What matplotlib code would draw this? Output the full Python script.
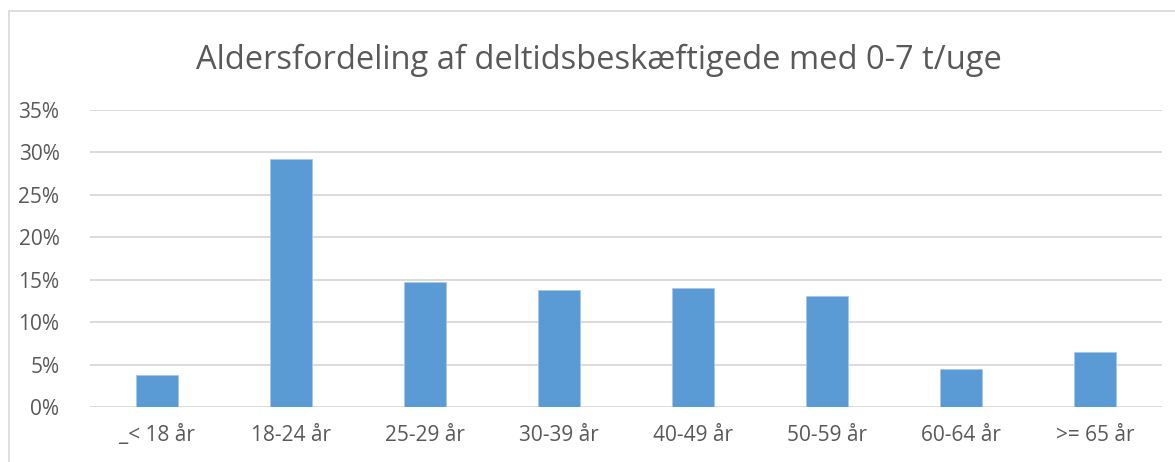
import matplotlib.pyplot as plt
from matplotlib.patches import Rectangle
from matplotlib.ticker import PercentFormatter

plt.rcParams['font.family'] = ['Open Sans', 'DejaVu Sans']

# Data
categories = ['_< 18 år', '18-24 år', '25-29 år', '30-39 år', '40-49 år',
              '50-59 år', '60-64 år', '>= 65 år']
shares = [0.038, 0.292, 0.147, 0.138, 0.141, 0.131, 0.045, 0.065]
y_ticks = [0, 0.05, 0.10, 0.15, 0.20, 0.25, 0.30, 0.35]

W, H = 1175, 462
fig = plt.figure(figsize=(W / 100, H / 100), dpi=100)

# outer chart border (left and top visible only)
fig.patches.append(Rectangle((9 / W, -0.1), 1.2, 1 - 11 / H + 0.1,
                             transform=fig.transFigure, fill=False,
                             edgecolor='#d9d9d9', linewidth=1.2))

ax = fig.add_axes([90 / W, 1 - 407.3 / H, (1162 - 90) / W, (407.3 - 110) / H])
ax.bar(range(len(categories)), shares, width=0.31, color='#5b9bd5',
       edgecolor='#a9c8ea', linewidth=0.6, zorder=3)

ax.set_xlim(-0.5, len(categories) - 0.5)
ax.set_ylim(0, 0.35)
ax.set_yticks(y_ticks)
ax.yaxis.set_major_formatter(PercentFormatter(1.0, decimals=0))
ax.set_xticks(range(len(categories)))
ax.set_xticklabels(categories)
ax.grid(axis='y', color='#d9d9d9', linewidth=1.3, zorder=0)
for s in ax.spines.values():
    s.set_visible(False)
ax.tick_params(axis='both', length=0, labelsize=15, labelcolor='#595959')
ax.tick_params(axis='x', pad=13)
ax.tick_params(axis='y', pad=22)

fig.text(0.510, 1 - 60 / H, 'Aldersfordeling af deltidsbeskæftigede med 0-7 t/uge',
         ha='center', va='center', fontsize=23.5, color='#595959')

fig.savefig('out.png', dpi=100)
